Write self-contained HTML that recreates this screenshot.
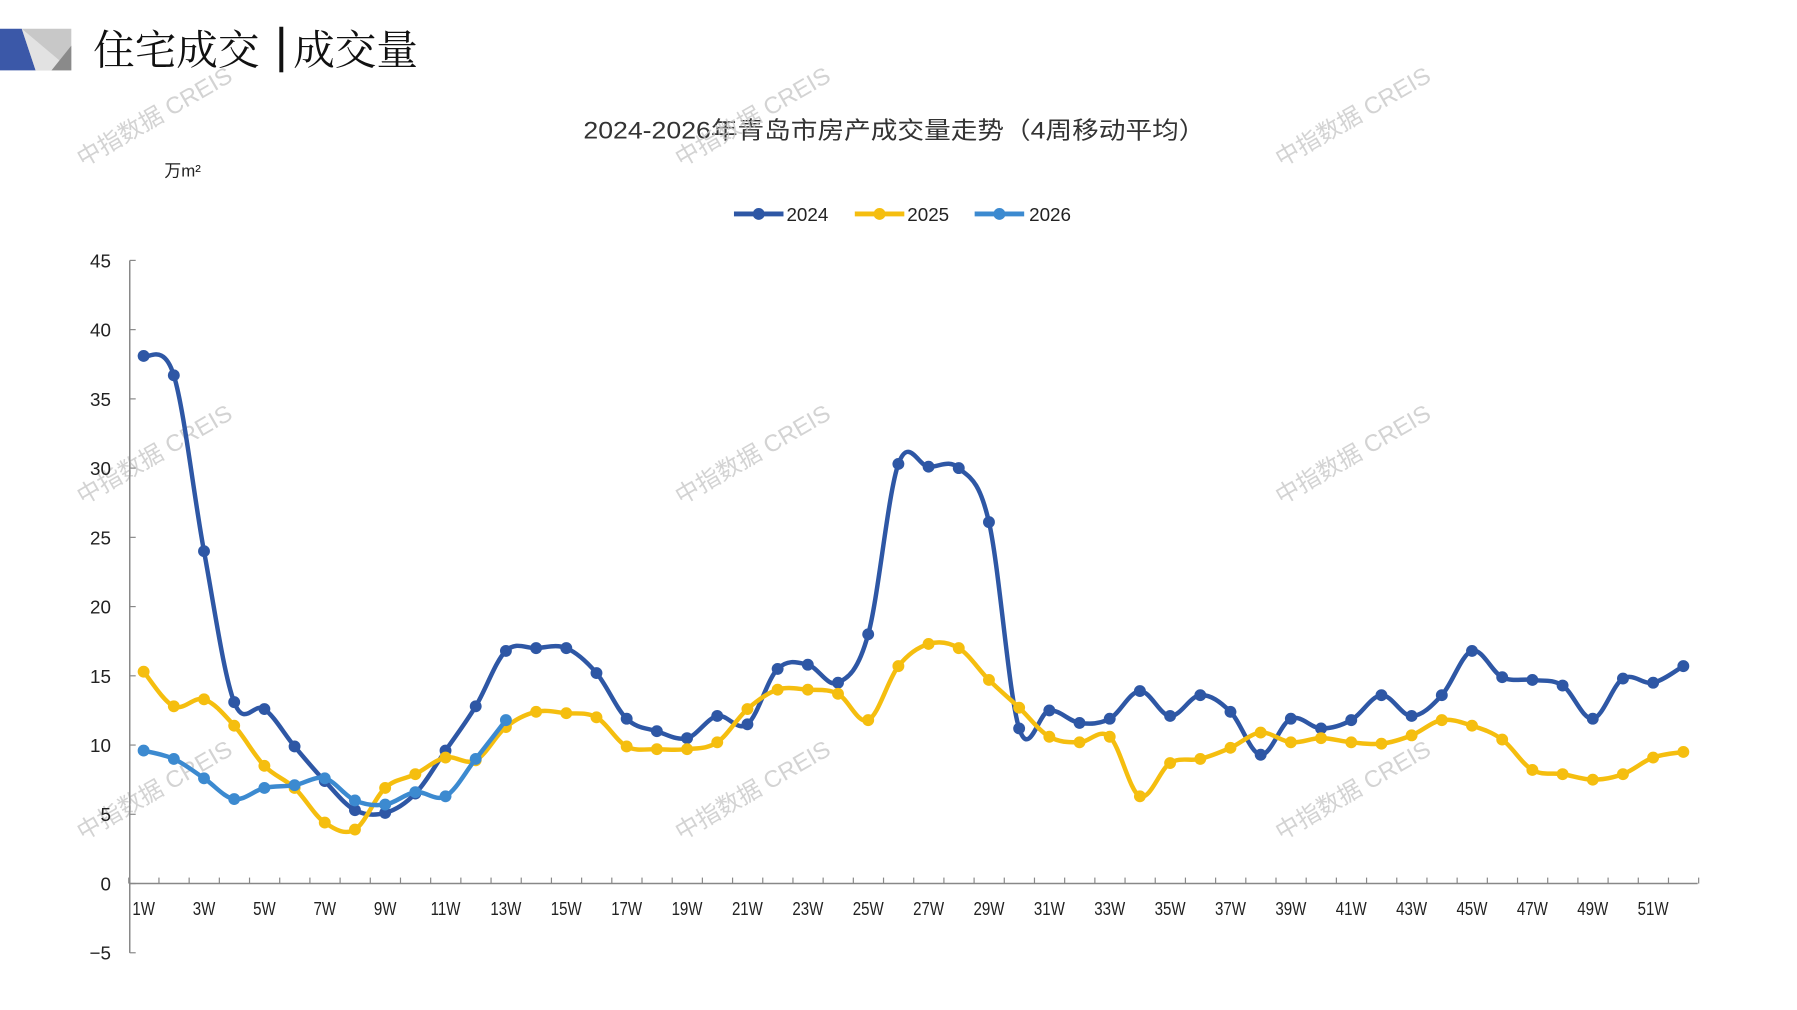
<!DOCTYPE html>
<html><head><meta charset="utf-8"><style>
body{margin:0;background:#fff;}
svg{display:block;font-family:"Liberation Sans","Noto Sans CJK SC",sans-serif;}
</style></head><body>
<svg id="s" width="1797" height="1010" viewBox="0 0 1797 1010" xmlns="http://www.w3.org/2000/svg">
<rect width="1797" height="1010" fill="#fff"/>
<g transform="scale(0.9905)">
<polygon points="0,29 22,29 36,71 0,71" fill="#3B58A8"/>
<polygon points="22,29 72,29 72,71 36,71" fill="#c8c8c8"/>
<polygon points="22,29 72,71 36,71" fill="#e2e2e2"/>
<polygon points="72,46 72,71 52,71" fill="#8a8a8a"/>
<text x="94" y="65" font-size="42" font-family="'Noto Serif CJK SC',serif" fill="#111">住宅成交</text>
<rect x="282" y="27" width="4" height="46" fill="#111"/>
<text x="296" y="65" font-size="42" font-family="'Noto Serif CJK SC',serif" fill="#111">成交量</text>
<text x="589" y="140" font-size="24" textLength="628" lengthAdjust="spacingAndGlyphs" font-family="'Liberation Sans','Noto Sans CJK SC',sans-serif" fill="#333">2024-2026年青岛市房产成交量走势（4周移动平均）</text>
<text x="166" y="178" font-size="17" fill="#222">万m²</text>
<g id="wm" font-size="24" fill="#c8c8c8" opacity="0.8"></g>
<g id="axes"></g>
<g id="series"></g>
<g font-size="19" fill="#222">
<line x1="741" y1="216" x2="791" y2="216" stroke="#2E57A5" stroke-width="5"/><circle cx="766" cy="216" r="6" fill="#2E57A5"/>
<text x="794" y="223">2024</text>
<line x1="863" y1="216" x2="913" y2="216" stroke="#F5BE0F" stroke-width="5"/><circle cx="888" cy="216" r="6" fill="#F5BE0F"/>
<text x="916" y="223">2025</text>
<line x1="984" y1="216" x2="1034" y2="216" stroke="#3C8AD0" stroke-width="5"/><circle cx="1009" cy="216" r="6" fill="#3C8AD0"/>
<text x="1039" y="223">2026</text>
</g>
</g>
</svg>
<script>
const NS="http://www.w3.org/2000/svg";
function el(t,a,p,txt){const e=document.createElementNS(NS,t);for(const k in a)e.setAttribute(k,a[k]);if(txt!=null)e.textContent=txt;p.appendChild(e);return e;}
const wm=document.getElementById('wm');
[[160,125],[764,125],[1370,125],[160,466],[764,466],[1370,466],[160,805],[764,805],[1370,805]].forEach(([x,y])=>{
 el('text',{x:x,y:y,'text-anchor':'middle',transform:`rotate(-30 ${x} ${y})`},wm,'中指数据 CREIS');});
const X0=131,X1=1714,Y0=892,U=69.9/5;
const xw=w=>145+(w-1)*30.48, yv=v=>Y0-v*U;
const ax=document.getElementById('axes');
el('line',{x1:X0,y1:263,x2:X0,y2:962,stroke:'#888','stroke-width':1.5},ax);
el('line',{x1:X0,y1:Y0,x2:X1,y2:Y0,stroke:'#888','stroke-width':1.5},ax);
for(let v=-5;v<=45;v+=5){const y=yv(v);el('line',{x1:X0,y1:y,x2:X0+6,y2:y,stroke:'#888','stroke-width':1.2},ax);
 el('text',{x:X0-19,y:y+7,'font-size':19,'text-anchor':'end',fill:'#222'},ax,v<0?'−5':String(v));}
for(let i=0;i<=52;i++){const x=130+i*30.48;el('line',{x1:x,y1:Y0,x2:x,y2:Y0-6,stroke:'#888','stroke-width':1.2},ax);}
for(let w=1;w<=51;w+=2){el('text',{x:xw(w),y:924,'font-size':19,'text-anchor':'middle',fill:'#222',transform:`translate(${xw(w)} 0) scale(0.8 1) translate(${-xw(w)} 0)`},ax,w+'W');}
const d24=[38.1,36.7,24,13.1,12.6,9.9,7.4,5.3,5.1,6.5,9.6,12.8,16.8,17,17,15.2,11.9,11,10.5,12.1,11.5,15.5,15.8,14.5,18,30.3,30.1,30,26.1,11.2,12.5,11.6,11.9,13.9,12.1,13.6,12.4,9.3,11.9,11.2,11.8,13.6,12.1,13.6,16.8,14.9,14.7,14.3,11.9,14.8,14.5,15.7];
const d25=[15.3,12.8,13.3,11.4,8.5,6.9,4.4,3.9,6.9,7.9,9.1,8.9,11.3,12.4,12.3,12,9.9,9.7,9.7,10.2,12.6,14,14,13.7,11.8,15.7,17.3,17,14.7,12.7,10.6,10.2,10.6,6.3,8.7,9,9.8,10.9,10.2,10.5,10.2,10.1,10.7,11.8,11.4,10.4,8.2,7.9,7.5,7.9,9.1,9.5];
const d26=[9.6,9,7.6,6.1,6.9,7.1,7.6,6,5.7,6.6,6.3,9,11.8];
const sg=document.getElementById('series');
function draw(d,c){const p=d.map((v,i)=>[xw(i+1),yv(v)]);let s=`M${p[0][0]},${p[0][1]}`;const t=0.17;
 for(let i=0;i<p.length-1;i++){const a=p[i-1]||p[i],b=p[i],c2=p[i+1],e=p[i+2]||c2;
  s+=` C${b[0]+(c2[0]-a[0])*t},${b[1]+(c2[1]-a[1])*t} ${c2[0]-(e[0]-b[0])*t},${c2[1]-(e[1]-b[1])*t} ${c2[0]},${c2[1]}`;}
 el('path',{d:s,fill:'none',stroke:c,'stroke-width':4.5,'stroke-linejoin':'round'},sg);
 p.forEach(q=>el('circle',{cx:q[0],cy:q[1],r:6,fill:c},sg));}
draw(d24,'#2E57A5');draw(d25,'#F5BE0F');draw(d26,'#3C8AD0');
</script>
</body></html>
